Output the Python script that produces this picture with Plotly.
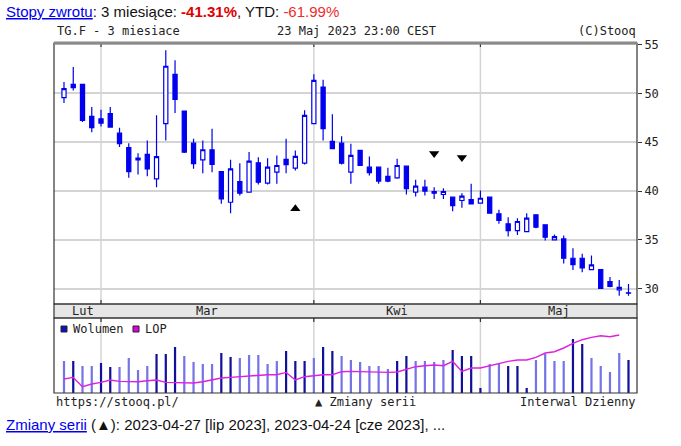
import plotly.graph_objects as go
import pandas as pd

# ---------------- data ----------------
dates = [d.strftime("%Y-%m-%d") for d in pd.bdate_range("2023-02-23", "2023-05-23")
         if d.strftime("%Y-%m-%d") not in ("2023-04-07", "2023-04-10")]

opens = [49.56, 50.92, 50.92, 47.64, 47.40, 47.92, 45.93, 44.44, 43.37, 43.75,
         41.26, 46.90, 51.95, 48.19, 44.90, 43.20, 44.23, 42.00, 38.86, 40.98,
         39.89, 42.90, 40.81, 41.94, 43.24, 42.35, 42.86, 46.90, 50.65, 45.08,
         44.90, 41.94, 44.16, 42.45, 42.45, 41.50, 41.36, 42.55, 39.89, 40.40,
         39.96, 39.65, 39.38, 39.04, 39.14, 38.76, 39.38, 37.67, 36.65, 35.96,
         35.86, 37.57, 36.55, 35.01, 35.11, 33.13, 33.13, 31.97, 31.97, 30.74,
         29.89, 29.60]
highs = [51.16, 52.70, 50.92, 48.60, 48.33, 48.60, 46.49, 44.90, 43.88, 45.18,
         47.75, 54.40, 53.38, 48.19, 45.36, 45.18, 46.38, 42.00, 43.20, 42.86,
         43.99, 43.47, 43.37, 43.65, 45.36, 44.16, 48.26, 51.95, 51.40, 47.85,
         45.62, 44.85, 44.23, 43.55, 42.45, 42.39, 43.31, 42.55, 41.16, 41.16,
         40.40, 40.30, 39.38, 39.79, 40.75, 40.06, 39.38, 38.09, 37.33, 37.23,
         37.74, 37.57, 36.55, 35.55, 35.45, 34.15, 33.58, 33.40, 31.97, 31.20,
         30.90, 30.50]
lows = [49.00, 50.30, 47.06, 46.03, 46.62, 46.50, 44.50, 41.36, 41.70, 41.53,
        40.40, 45.18, 47.98, 43.90, 42.28, 41.83, 41.94, 38.70, 37.74, 39.55,
        39.89, 40.68, 40.68, 40.75, 41.83, 42.10, 42.73, 46.90, 45.18, 44.33,
        42.73, 40.75, 42.62, 41.60, 40.75, 40.91, 41.26, 39.65, 39.45, 39.55,
        39.20, 39.20, 37.94, 38.29, 38.70, 38.70, 37.70, 36.65, 35.35, 35.52,
        35.86, 36.20, 34.94, 34.94, 32.60, 31.94, 31.70, 31.97, 30.05, 30.16,
        29.30, 29.30]
closes = [50.48, 50.58, 47.23, 46.49, 46.96, 46.55, 44.85, 42.00, 43.20, 42.28,
          43.52, 52.77, 49.39, 43.99, 42.80, 44.23, 42.73, 39.21, 42.28, 39.79,
          43.06, 40.91, 42.45, 42.62, 42.70, 43.55, 47.75, 51.33, 46.38, 44.33,
          42.86, 43.65, 42.62, 41.88, 41.02, 41.02, 42.62, 40.24, 40.50, 40.00,
          39.79, 39.96, 38.52, 39.48, 38.70, 39.27, 37.74, 36.99, 35.96, 36.89,
          37.23, 36.30, 35.28, 35.35, 33.13, 32.48, 32.14, 32.45, 30.05, 30.26,
          30.16, 29.55]

volume = [32, 32, 27, 27, 30, 26, 26, 35, 23, 27,
          39, 39, 46, 37, 31, 29, 29, 40, 36, 35,
          38, 38, 29, 32, 42, 32, 32, 35, 46, 42,
          37, 33, 31, 27, 27, 24, 32, 37, 32, 32,
          31, 33, 43, 37, 37, 5, 29, 30, 27, 27,
          5, 33, 39, 32, 32, 54, 49, 35, 27, 21,
          40, 33]
volume_dark = [0, 1, 0, 0, 1, 1, 0, 0, 0, 0,
               1, 1, 1, 0, 0, 0, 0, 1, 1, 0,
               0, 0, 0, 0, 1, 1, 1, 0, 1, 1,
               0, 0, 0, 0, 0, 0, 1, 1, 0, 0,
               0, 0, 1, 1, 1, 1, 0, 0, 1, 1,
               1, 0, 0, 0, 0, 1, 1, 0, 0, 0,
               0, 1]
lop = [14.0, 15.6, 6.3, 9.0, 10.6, 13.0, 11.6, 11.3, 11.3, 12.3,
       13.0, 10.6, 10.6, 10.6, 10.0, 11.3, 13.0, 15.0, 15.6, 16.3,
       17.3, 18.3, 18.3, 18.3, 20.6, 13.0, 16.3, 17.3, 18.3, 18.3,
       21.3, 21.6, 21.3, 20.6, 20.6, 20.6, 21.0, 24.0, 26.3, 27.3,
       28.0, 27.3, 31.6, 21.6, 25.0, 25.0, 27.3, 29.6, 31.6, 33.0,
       33.0, 35.6, 40.0, 41.3, 45.0, 49.6, 53.3, 55.6, 57.3, 56.3,
       58.0, None]

change_up_dates = ["2023-03-30"]
change_up_vals = [38.2]
change_down_dates = ["2023-04-24", "2023-04-27"]
change_down_vals = [43.85, 43.44]

month_names = ["Lut", "Mar", "Kwi", "Maj"]
price_ticks = [30, 35, 40, 45, 50, 55]

# ---------------- layout geometry ----------------
W, H = 681, 446
L, R, T, B = 54, 637, 43, 393
PRICE_BOTTOM, BAND_BOTTOM = 304, 318
MONO = "DejaVu Sans Mono"
SANS = "Liberation Sans"


def px(x):
    return (x - L) / (R - L)


def py(y):
    return (B - y) / (B - T)


price_dom = [py(PRICE_BOTTOM), 1]
band_dom = [py(BAND_BOTTOM), py(PRICE_BOTTOM)]
vol_dom = [0, py(BAND_BOTTOM)]

BLUE = "#0000ee"
fig = go.Figure()

fig.add_trace(go.Candlestick(
    x=dates, open=opens, high=highs, low=lows, close=closes,
    increasing=dict(line=dict(color=BLUE, width=1.2), fillcolor="white"),
    decreasing=dict(line=dict(color=BLUE, width=1.2), fillcolor=BLUE),
    whiskerwidth=0, xaxis="x", yaxis="y", showlegend=False, hoverinfo="skip"))

fig.add_trace(go.Scatter(
    x=change_up_dates, y=change_up_vals, mode="markers",
    marker=dict(symbol="triangle-up", color="black", size=9),
    xaxis="x", yaxis="y", showlegend=False, hoverinfo="skip"))
fig.add_trace(go.Scatter(
    x=change_down_dates, y=change_down_vals, mode="markers",
    marker=dict(symbol="triangle-down", color="black", size=9),
    xaxis="x", yaxis="y", showlegend=False, hoverinfo="skip"))

fig.add_trace(go.Bar(
    x=dates, y=volume, width=0.24,
    marker=dict(color=["#10109a" if d else "#7474e6" for d in volume_dark], line=dict(width=0)),
    xaxis="x2", yaxis="y2", showlegend=False, hoverinfo="skip"))
fig.add_trace(go.Scatter(
    x=dates, y=lop, mode="lines", line=dict(color="#e020e0", width=1.4),
    connectgaps=False, xaxis="x2", yaxis="y2", showlegend=False, hoverinfo="skip"))

n = len(dates)
xr = [-1.08, n - 0.08]
month_starts = [0] + [i for i in range(1, n) if dates[i][5:7] != dates[i - 1][5:7]]

shapes = []
# month vertical grid lines
for i in month_starts[1:]:
    for y0, y1 in (price_dom, vol_dom):
        shapes.append(dict(type="line", xref="x", yref="paper", x0=i, x1=i, y0=y0, y1=y1,
                           line=dict(color="#d4d4d4", width=1.5), layer="below"))
    for (ya, yb) in ((T, T + 4), (PRICE_BOTTOM - 4, PRICE_BOTTOM), (BAND_BOTTOM, BAND_BOTTOM + 4)):
        shapes.append(dict(type="line", xref="x", yref="paper", x0=i, x1=i, y0=py(ya), y1=py(yb),
                           line=dict(color="#333333", width=1.2)))
# month band
shapes.append(dict(type="rect", xref="paper", yref="paper", x0=0, x1=1, y0=band_dom[0], y1=band_dom[1],
                   fillcolor="#e6e6e6", line=dict(color="#333333", width=1.2)))
# panel borders
shapes.append(dict(type="rect", xref="paper", yref="paper", x0=0, x1=1, y0=price_dom[0], y1=1,
                   line=dict(color="#333333", width=1.2)))
shapes.append(dict(type="rect", xref="paper", yref="paper", x0=0, x1=1, y0=0, y1=vol_dom[1],
                   line=dict(color="#333333", width=1.2)))
shapes.append(dict(type="line", xref="paper", yref="paper", x0=0, x1=1, y0=1, y1=1,
                   line=dict(color="#8a8a8a", width=3)))
# legend squares
shapes.append(dict(type="rect", xref="paper", yref="paper", x0=px(61), x1=px(67), y0=py(332), y1=py(326),
                   fillcolor="#1010c0", line=dict(color="#222222", width=1)))
shapes.append(dict(type="rect", xref="paper", yref="paper", x0=px(133), x1=px(139), y0=py(332), y1=py(326),
                   fillcolor="#e000e0", line=dict(color="#222222", width=1)))

ann = []


def text(x, y, s, anchor="left", font=MONO, size=12, color="#222222"):
    ann.append(dict(x=px(x), y=py(y), xref="paper", yref="paper", text=s, showarrow=False,
                    xanchor=anchor, yanchor="middle", font=dict(family=font, size=size, color=color)))


for k, m in enumerate(month_names):
    a = month_starts[k]
    b = month_starts[k + 1] if k + 1 < len(month_starts) else n
    ann.append(dict(x=(a + b) / 2, y=(band_dom[0] + band_dom[1]) / 2, xref="x", yref="paper", text=m,
                    showarrow=False, xanchor="center", yanchor="middle",
                    font=dict(family=MONO, size=12, color="#222222")))

text(55, 31, "TG.F - 3 miesiace")
text(356, 31, "23 Maj 2023 23:00 CEST", anchor="center")
text(638, 31, "(C)Stooq", anchor="right")
text(71, 329, "Wolumen")
text(143, 329, "LOP")
text(54, 402, "https://stooq.pl/")
text(365, 402, "▲ Zmiany serii", anchor="center")
text(638, 402, "Interwal Dzienny", anchor="right")
text(4, 11, '<span style="color:#0000ee"><u>Stopy zwrotu</u></span>: 3 miesiące: '
            '<b><span style="color:#e00000">-41.31%</span></b>, YTD: '
            '<span style="color:#ee2a2a">-61.99%</span>', font=SANS, size=15, color="#111111")
text(4, 424, '<span style="color:#0000ee"><u>Zmiany serii</u></span> (▲): 2023-04-27 [lip 2023], '
             '2023-04-24 [cze 2023], ...', font=SANS, size=15, color="#111111")

fig.update_layout(
    width=W, height=H, margin=dict(l=L, r=W - R, t=T, b=H - B),
    paper_bgcolor="white", plot_bgcolor="white", boxgap=0.36,
    xaxis=dict(type="category", range=xr, showgrid=False, showticklabels=False, ticks="",
               rangeslider=dict(visible=False), anchor="y", fixedrange=True),
    xaxis2=dict(type="category", matches="x", range=xr, showgrid=False, showticklabels=False,
                ticks="", anchor="y2"),
    yaxis=dict(domain=price_dom, range=[28.45, 55.15], side="right", tickvals=price_ticks,
               ticks="outside", ticklen=4, tickcolor="#333333", showgrid=True, gridcolor="#d4d4d4",
               gridwidth=1.5, zeroline=False, tickfont=dict(family=MONO, size=12, color="#222222"),
               anchor="x"),
    yaxis2=dict(domain=vol_dom, range=[0, 75], showgrid=False, showticklabels=False, ticks="",
                zeroline=False, anchor="x2"),
    shapes=shapes, annotations=ann, showlegend=False,
)

fig.write_html("out.html")
